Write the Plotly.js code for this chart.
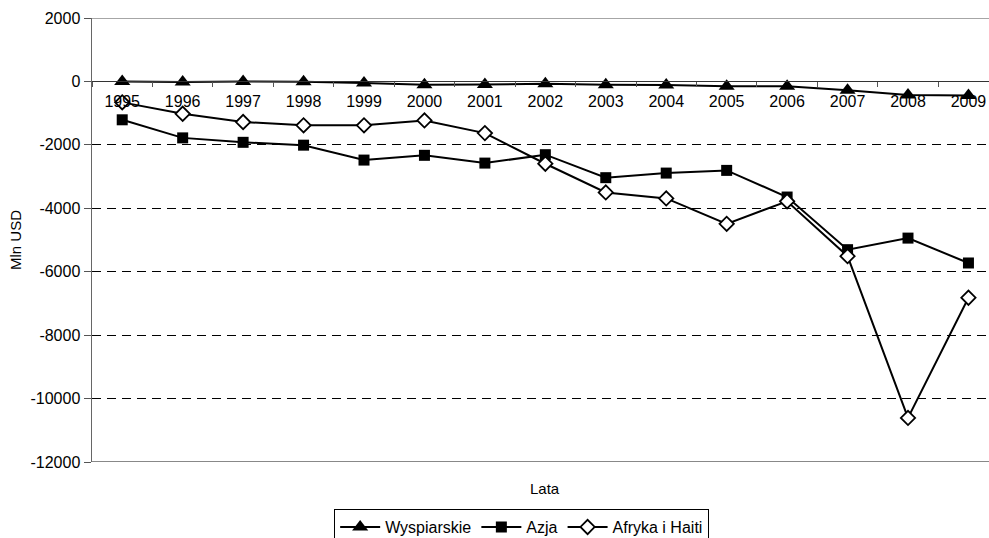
<!DOCTYPE html>
<html>
<head>
<meta charset="utf-8">
<script src="https://cdn.plot.ly/plotly-3.0.1.min.js"></script>
<style>html,body{margin:0;padding:0;background:#fff;overflow:hidden;}#chart{width:989px;height:570px;}</style>
</head>
<body>
<div id="chart"></div>
<script>
const years = ['1995','1996','1997','1998','1999','2000','2001','2002','2003','2004','2005','2006','2007','2008','2009'];
const wyspiarskie = [0, -20, 0, -10, -50, -105, -100, -75, -105, -110, -150, -150, -275, -430, -440];
const azja = [-1210, -1780, -1920, -2010, -2480, -2330, -2575, -2310, -3035, -2890, -2805, -3645, -5305, -4940, -5725];
const afryka = [-660, -1020, -1280, -1385, -1385, -1230, -1630, -2595, -3500, -3690, -4490, -3780, -5510, -10610, -6820];
const yTickVals = [2000, 0, -2000, -4000, -6000, -8000, -10000, -12000];
const yTickText = ['2000', '0', '-2000', '-4000', '-6000', '-8000', '-10000', '-12000'];

const FONT = 'Liberation Sans, Arial, sans-serif';

const traces = [
  {x: years, y: wyspiarskie, name: 'Wyspiarskie', type: 'scatter', mode: 'lines+markers',
   line: {color: '#000', width: 2}, marker: {symbol: 'triangle-up', size: 14, color: '#000'}},
  {x: years, y: azja, name: 'Azja', type: 'scatter', mode: 'lines+markers',
   line: {color: '#000', width: 2}, marker: {symbol: 'square', size: 11, color: '#000'}},
  {x: years, y: afryka, name: 'Afryka i Haiti', type: 'scatter', mode: 'lines+markers',
   line: {color: '#000', width: 2}, marker: {symbol: 'diamond', size: 11, color: '#fff', line: {color: '#000', width: 1.8}}}
];

const layout = {
  width: 989, height: 570,
  margin: {l: 92, r: 0, t: 18, b: 108},
  paper_bgcolor: '#fff', plot_bgcolor: '#fff',
  font: {family: FONT, size: 16, color: '#000'},
  showlegend: true,
  xaxis: {
    type: 'category', range: [-0.5, 14.34],
    anchor: 'free', position: 12000/14000,
    showline: true, linecolor: '#333', linewidth: 1,
    ticks: 'outside', tickson: 'boundaries', ticklen: 5, tickcolor: '#555',
    ticklabelstandoff: 5,
    showgrid: false, zeroline: false,
    tickfont: {family: FONT, size: 16, color: '#000'}
  },
  yaxis: {
    range: [-12000, 2000], autorange: false,
    tickvals: yTickVals, ticktext: yTickText,
    ticks: 'outside', ticklen: 7, tickcolor: '#555',
    showline: true, linecolor: '#666', linewidth: 1.5,
    showgrid: true, gridcolor: '#000', gridwidth: 1, griddash: '9px,6px',
    zeroline: false,
    tickfont: {family: FONT, size: 16, color: '#000'},
    title: {text: 'Mln USD', font: {family: FONT, size: 15, color: '#000'}, standoff: 5}
  },
  shapes: [
    {type: 'line', xref: 'paper', yref: 'y', x0: 0, x1: 1, y0: 2000, y1: 2000, line: {color: '#888', width: 1.5}, layer: 'above'},
    {type: 'line', xref: 'paper', yref: 'y', x0: 0, x1: 1, y0: -12000, y1: -12000, line: {color: '#888', width: 2}, layer: 'above'}
  ],
  annotations: [
    {text: 'Lata', xref: 'paper', yref: 'paper', x: 0.505, y: -0.0586, xanchor: 'center', yanchor: 'middle',
     showarrow: false, font: {family: FONT, size: 15, color: '#000'}}
  ],
  legend: {
    orientation: 'h', x: 0.479, xanchor: 'center', y: -0.106, yanchor: 'top',
    bordercolor: '#000', borderwidth: 1, bgcolor: '#fff',
    font: {family: FONT, size: 16, color: '#000'},
    itemwidth: 40
  }
};

Plotly.newPlot('chart', traces, layout, {displayModeBar: false, staticPlot: true});
</script>
</body>
</html>
